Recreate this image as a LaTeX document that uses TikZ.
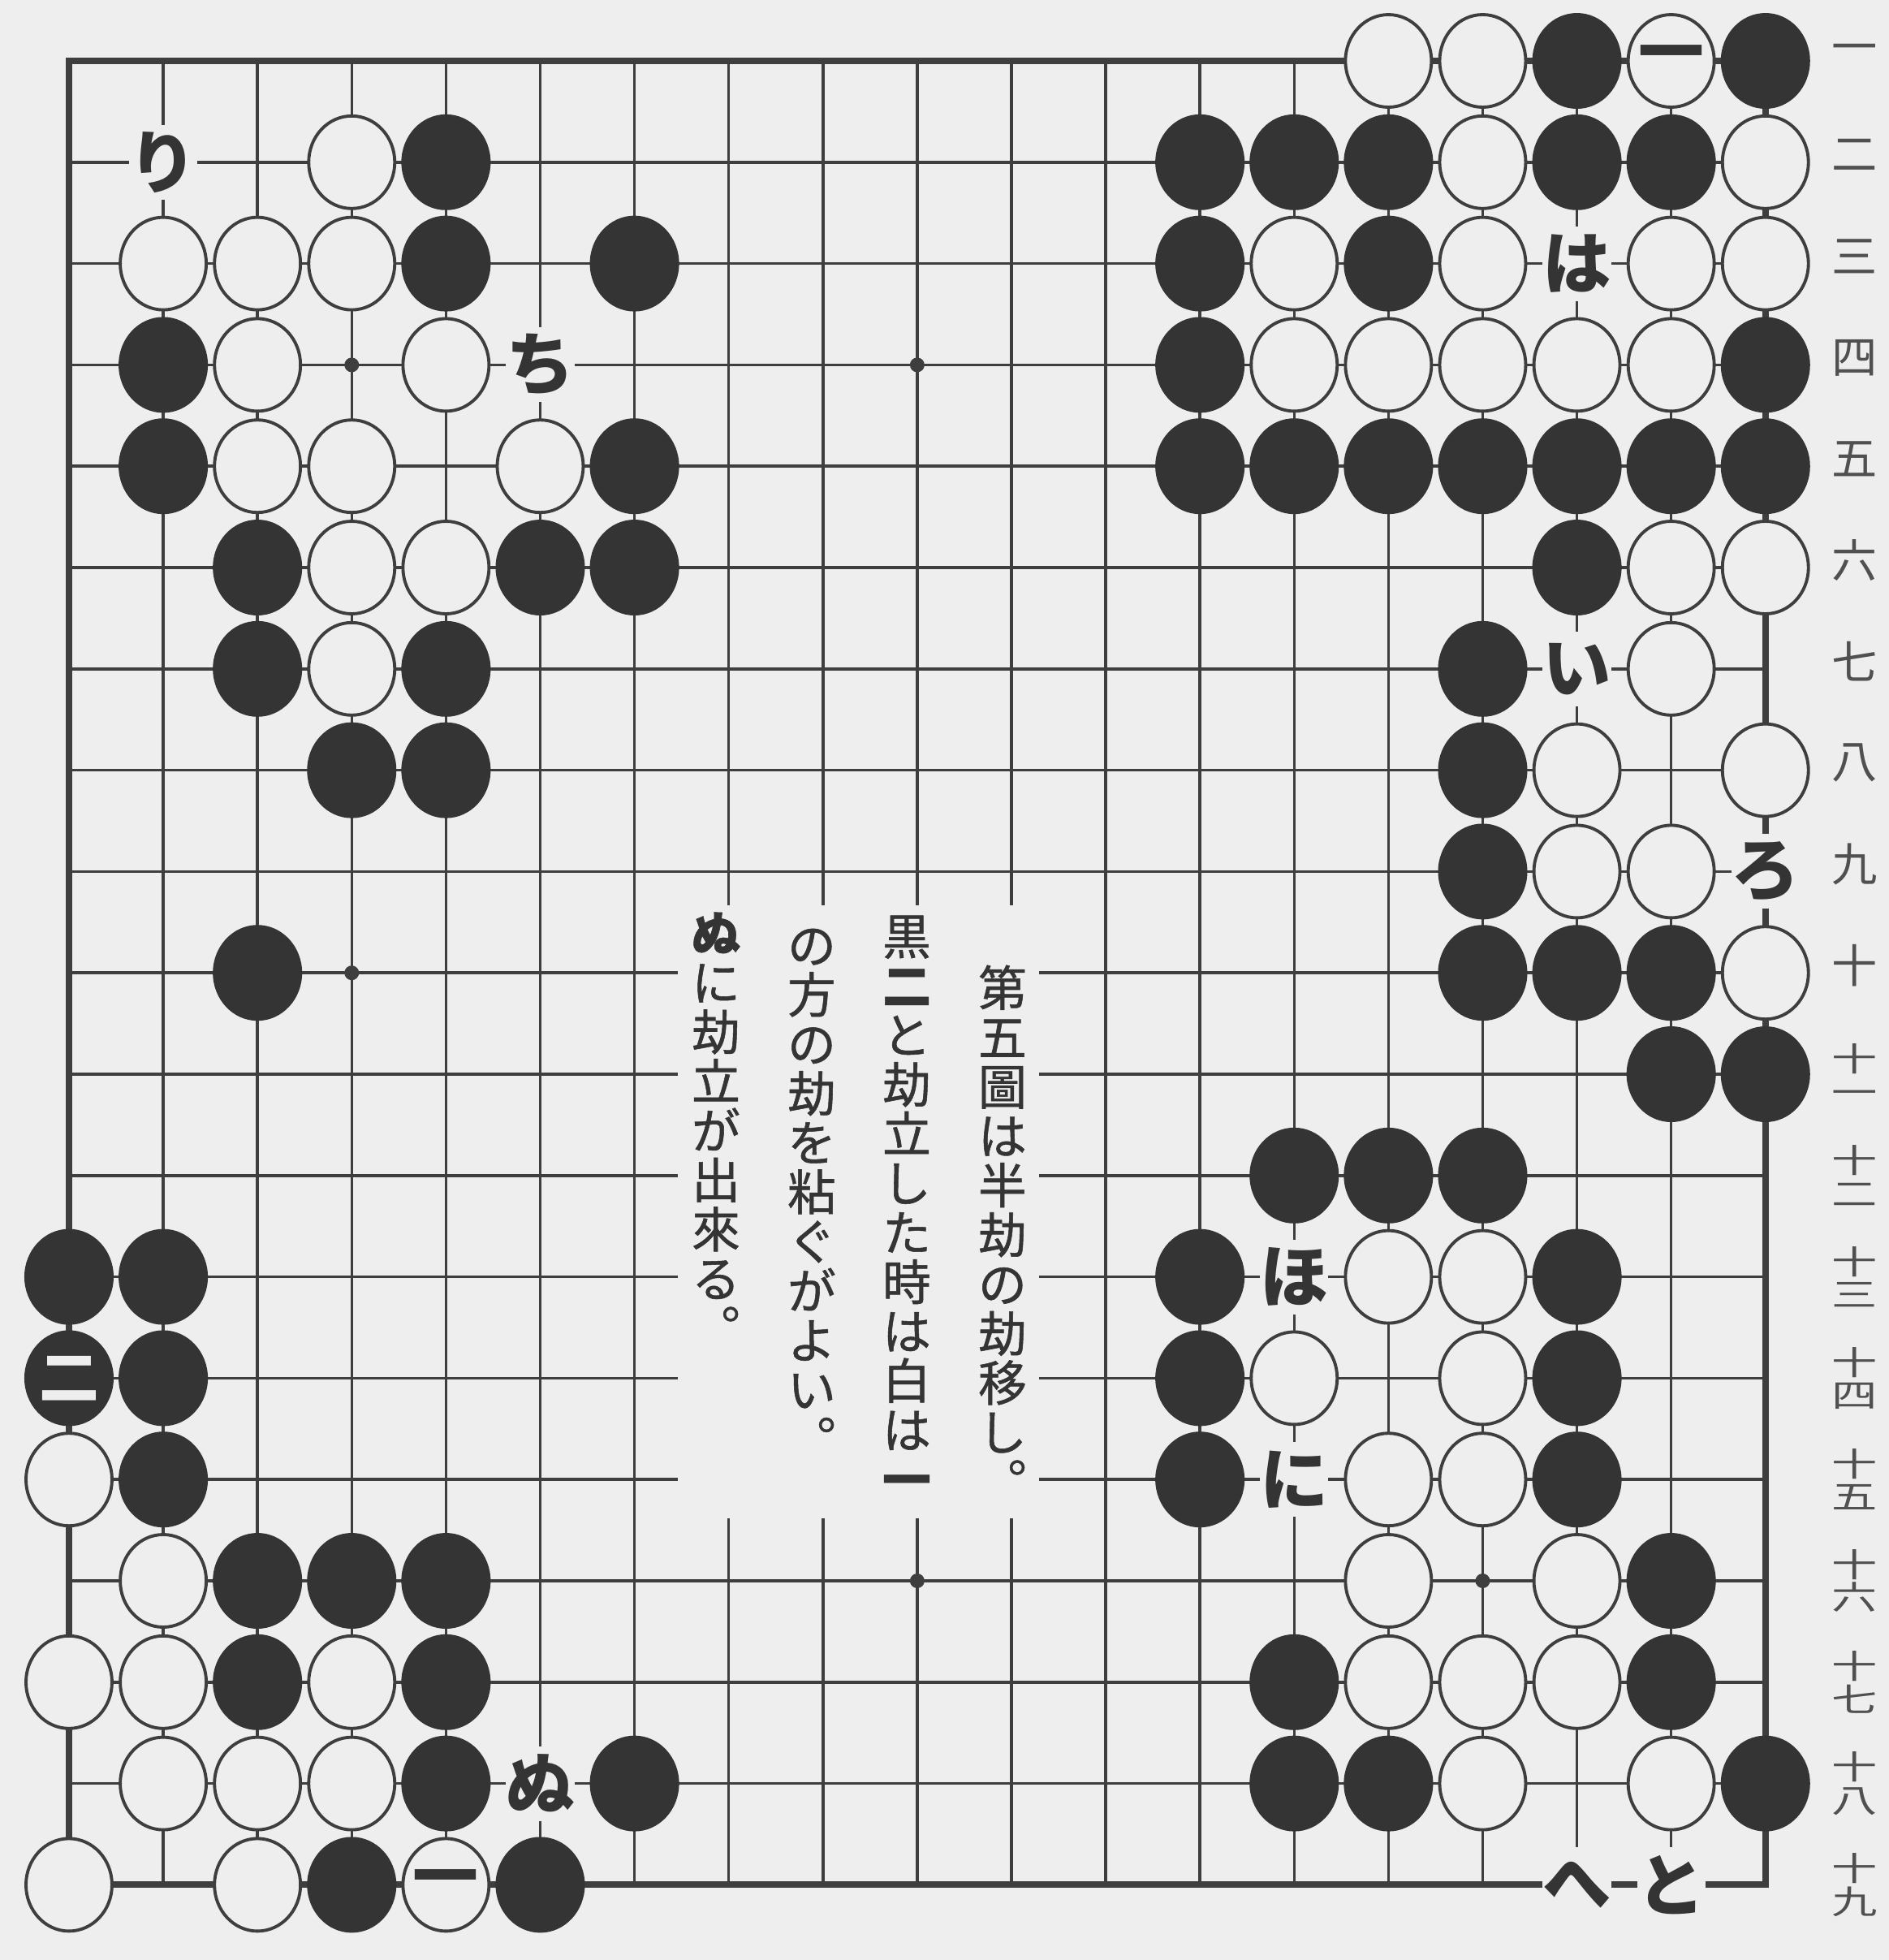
\documentclass[tikz,border=0pt]{standalone}
\usepackage{fontspec}
\usepackage{graphicx}
\setmainfont{Noto Sans CJK JP}
\newfontfamily\colfont{Noto Sans CJK JP}[FakeBold=0.9]
\definecolor{paper}{RGB}{238,238,238}
\definecolor{ink}{RGB}{52,52,52}
\definecolor{gridline}{RGB}{62,62,62}
\definecolor{numgray}{RGB}{80,80,80}
\tikzset{
  bstone/.style={fill=ink},
  wstone/.style={draw=gridline,line width=1.1pt,fill=paper},
  kana/.style={fill=paper,inner sep=0pt,minimum width=0.78cm,minimum height=0.92cm,
    font=\fontsize{24}{24}\selectfont\bfseries,text=ink},
  rowno/.style={font=\fontsize{16}{16}\selectfont,text=numgray,inner sep=0pt},
  textcol/.style={font=\fontsize{17}{17.3}\selectfont\colfont,align=center,inner sep=0pt,
    anchor=north,text=ink}
}
\begin{document}
\begin{tikzpicture}[x=1.161cm,y=-1.248cm]
  \fill[paper] (0.268,0.399) rectangle (20.311,19.742);
  \useasboundingbox (0.268,0.399) rectangle (20.311,19.742);
  \begin{scope}[draw=gridline]
    \foreach \i in {2,...,18} {
      \draw[line width=1pt] (\i,1) -- (\i,19);
      \draw[line width=1pt] (1,\i) -- (19,\i);
    }
    \draw[line width=2.3pt] (1,1) rectangle (19,19);
    \foreach \c/\r in {4/4,10/4,4/10,10/16,16/16}
      \fill[gridline] (\c,\r) circle (0.09cm);
  \end{scope}
  \fill[paper] (7.46,9.333) rectangle (11.29,15.383);
  \foreach \c/\r in {5/2,5/3,7/3,2/4,2/5,7/5,3/6,6/6,7/6,3/7,5/7,4/8,5/8,3/10,
      17/1,19/1,13/2,14/2,15/2,17/2,18/2,13/3,15/3,13/4,19/4,13/5,14/5,15/5,16/5,17/5,18/5,19/5,
      17/6,16/7,16/8,16/9,16/10,17/10,18/10,18/11,19/11,
      14/12,15/12,16/12,13/13,17/13,13/14,17/14,13/15,17/15,18/16,14/17,18/17,14/18,15/18,19/18,
      1/13,2/13,1/14,2/14,2/15,3/16,4/16,5/16,3/17,5/17,5/18,7/18,4/19,6/19}
    \fill[bstone] (\c,\r) ellipse [x radius=0.55cm,y radius=0.59cm];
  \foreach \c/\r in {4/2,2/3,3/3,4/3,3/4,5/4,3/5,4/5,6/5,4/6,5/6,4/7,
      15/1,16/1,18/1,16/2,19/2,14/3,16/3,18/3,19/3,14/4,15/4,16/4,17/4,18/4,
      18/6,19/6,18/7,17/8,19/8,17/9,18/9,19/10,
      15/13,16/13,14/14,16/14,15/15,16/15,15/16,17/16,15/17,16/17,17/17,16/18,18/18,
      1/15,2/16,1/17,2/17,4/17,2/18,3/18,4/18,1/19,3/19,5/19}
    \draw[wstone] (\c,\r) ellipse [x radius=0.53cm,y radius=0.57cm];
  \node[font=\fontsize{23}{23}\selectfont\bfseries,text=ink] (ko1) at (18,1) {一};
  \node[font=\fontsize{21}{21}\selectfont\bfseries,text=paper] (ko2) at (1,14) {二};
  \node[font=\fontsize{23}{23}\selectfont\bfseries,text=ink] (ko3) at (5,19) {一};
  \foreach \c/\r/\lab in {2/2/り,6/4/ち,17/3/は,17/7/い,19/9/ろ,14/13/ほ,14/15/に,6/18/ぬ,17/19/へ,18/19/と}
    \node[kana] at (\c,\r) {\lab};
  \foreach \n [count=\r] in {一,二,三,四,五,六,七,八,九,十}
    \node[rowno] at (19.949,\r-0.07) {\n};
  \foreach \n [count=\k from 11] in {一,二,三,四,五,六,七,八,九}
    \node[rowno,align=center] at (19.949,\k) {\scalebox{1}[0.72]{十}\\[-4.5pt]\scalebox{1}[0.72]{\n}};
  \node[textcol] (fig) at (10.905,9.918) {第\\五\\圖\\は\\半\\劫\\の\\劫\\移\\し\\︒};
  \node[textcol] (kuro) at (9.889,9.429) {黒\\\textbf{二}\\と\\劫\\立\\し\\た\\時\\は\\白\\は\\\textbf{一}};
  \node[textcol] (hou) at (8.881,9.558) {の\\方\\の\\劫\\を\\粘\\ぐ\\が\\よ\\い\\︒};
  \node[textcol] (nu) at (7.865,9.397) {\textbf{ぬ}\\に\\劫\\立\\が\\出\\來\\る\\︒};
\end{tikzpicture}
\end{document}
